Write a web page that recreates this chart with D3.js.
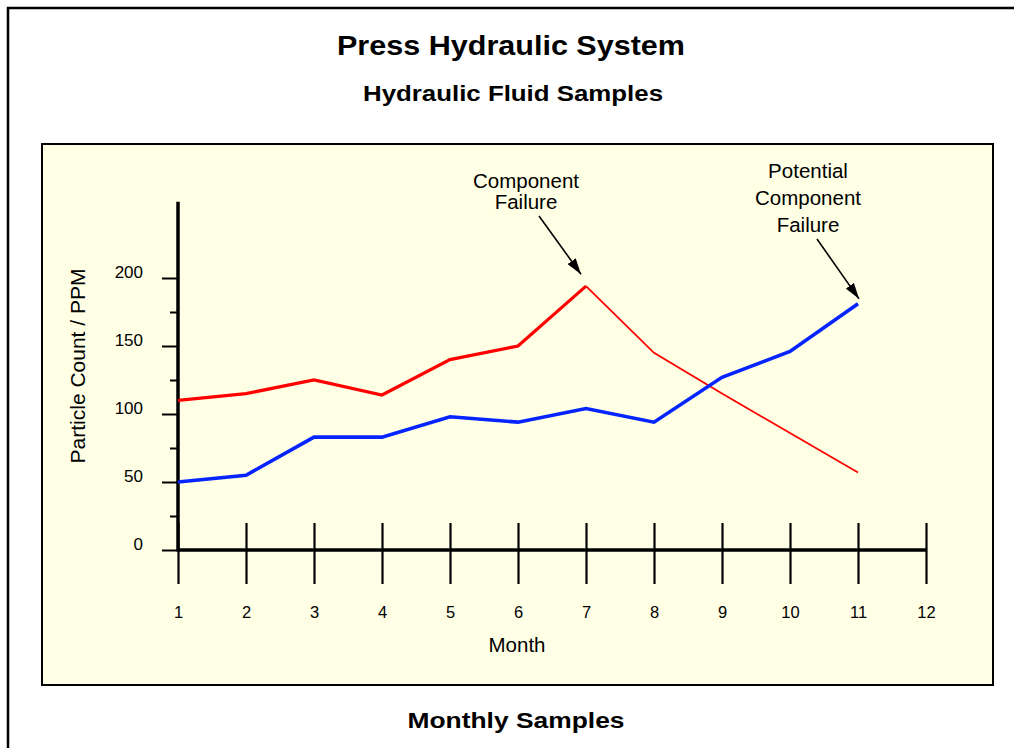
<!DOCTYPE html>
<html>
<head>
<title>Press Hydraulic System</title>
<script src="https://cdnjs.cloudflare.com/ajax/libs/d3/7.8.5/d3.min.js"></script>
<style>
  body { margin: 0; background: #fff; }
  text { font-family: "Liberation Sans", Arial, sans-serif; fill: #000; }
</style>
</head>
<body>
<svg id="chart" width="1014" height="748"></svg>

<script type="text/javascript">
// month numbers on the x axis
var months = [1, 2, 3, 4, 5, 6, 7, 8, 9, 10, 11];
var tickMonths = [1, 2, 3, 4, 5, 6, 7, 8, 9, 10, 11, 12];
// particle counts (ppm)
var redCounts = [110, 115, 125, 114, 140, 150, 194, 145, 115, 86, 57];
var blueCounts = [50, 55, 83, 83, 98, 94, 104, 94, 127, 146, 181];
var yTicks = [0, 50, 100, 150, 200];
var yMinorTicks = [25, 75, 125, 175];

var svg = d3.select("#chart");

// outer frame, runs off the right and bottom of the picture
svg.append("rect")
    .attr("x", 8).attr("y", 8)
    .attr("width", 1020).attr("height", 760)
    .attr("fill", "#fff").attr("stroke", "#000").attr("stroke-width", 2.5);

svg.append("text")
    .attr("x", 511).attr("y", 55)
    .attr("text-anchor", "middle")
    .attr("font-size", 27).attr("font-weight", "bold")
    .attr("textLength", 348).attr("lengthAdjust", "spacingAndGlyphs")
    .text("Press Hydraulic System");

svg.append("text")
    .attr("x", 513).attr("y", 101)
    .attr("text-anchor", "middle")
    .attr("font-size", 22).attr("font-weight", "bold")
    .attr("textLength", 300).attr("lengthAdjust", "spacingAndGlyphs")
    .text("Hydraulic Fluid Samples");

svg.append("text")
    .attr("x", 516).attr("y", 728)
    .attr("text-anchor", "middle")
    .attr("font-size", 22).attr("font-weight", "bold")
    .attr("textLength", 217).attr("lengthAdjust", "spacingAndGlyphs")
    .text("Monthly Samples");

// pale yellow plot panel
svg.append("rect")
    .attr("x", 42).attr("y", 144)
    .attr("width", 951).attr("height", 541)
    .attr("fill", "#ffffe6").attr("stroke", "#000").attr("stroke-width", 2);

var x = d3.scaleLinear().domain([1, 12]).range([178, 926]);
var y = d3.scaleLinear().domain([0, 200]).range([550, 278]);

// y axis: major ticks with labels, minor ticks without
var yAxis = svg.append("g")
    .attr("transform", "translate(178,0)")
    .call(d3.axisLeft(y).tickValues(yTicks).tickSize(16).tickPadding(19));
yAxis.select(".domain").remove();
yAxis.selectAll("line").attr("stroke-width", 2);
yAxis.selectAll("text")
    .attr("font-size", 17).attr("dy", "-0.02em")
    .style("font-family", "'Liberation Sans', Arial, sans-serif");

var yMinor = svg.append("g")
    .attr("transform", "translate(178,0)")
    .call(d3.axisLeft(y).tickValues(yMinorTicks).tickSize(8).tickFormat(""));
yMinor.select(".domain").remove();
yMinor.selectAll("line").attr("stroke-width", 2);

svg.append("line")
    .attr("x1", 178).attr("x2", 178)
    .attr("y1", y(256)).attr("y2", y(0) + 1.5)
    .attr("stroke", "#000").attr("stroke-width", 3.5);

// x axis: long ticks crossing the baseline
var xAxis = svg.append("g")
    .attr("transform", "translate(0,523)")
    .call(d3.axisBottom(x).tickValues(tickMonths).tickSize(61).tickPadding(22));
xAxis.select(".domain").remove();
xAxis.selectAll("line").attr("stroke-width", 2.2);
xAxis.selectAll("text")
    .attr("font-size", 16.5)
    .style("font-family", "'Liberation Sans', Arial, sans-serif");

svg.append("line")
    .attr("x1", x(1)).attr("x2", x(12))
    .attr("y1", y(0)).attr("y2", y(0))
    .attr("stroke", "#000").attr("stroke-width", 3.5);

svg.append("text")
    .attr("x", 517).attr("y", 652)
    .attr("text-anchor", "middle")
    .attr("font-size", 20.5)
    .text("Month");

svg.append("text")
    .attr("transform", "translate(85,366) rotate(-90)")
    .attr("text-anchor", "middle")
    .attr("font-size", 21)
    .text("Particle Count / PPM");

// lines
var line = d3.line()
    .x(function(d) { return x(d[0]); })
    .y(function(d) { return y(d[1]); });

var red = months.map(function(m, i) { return [m, redCounts[i]]; });
var blue = months.map(function(m, i) { return [m, blueCounts[i]]; });

// red is drawn heavy up to month 7, lighter after it
svg.append("path")
    .datum(red.slice(0, 7))
    .attr("d", line)
    .attr("fill", "none").attr("stroke", "#ff0000")
    .attr("stroke-width", 3.2).attr("stroke-linejoin", "miter");
svg.append("path")
    .datum(red.slice(6))
    .attr("d", line)
    .attr("fill", "none").attr("stroke", "#ff0000")
    .attr("stroke-width", 1.8).attr("stroke-linejoin", "miter");

svg.append("path")
    .datum(blue)
    .attr("d", line)
    .attr("fill", "none").attr("stroke", "#0524ff")
    .attr("stroke-width", 3.6);

// annotations with arrows
svg.append("defs").append("marker")
    .attr("id", "head")
    .attr("viewBox", "0 0 16 10")
    .attr("refX", 16).attr("refY", 5)
    .attr("markerWidth", 16).attr("markerHeight", 10)
    .attr("markerUnits", "userSpaceOnUse")
    .attr("orient", "auto")
    .append("path")
    .attr("d", "M0,0 L16,5 L0,10 Z")
    .attr("fill", "#000");

var notes = [
    {lines: ["Component", "Failure"], cx: 526, top: 188, month: 7, value: redCounts[6],
     from: [539, 216], dx: -5, dy: -12},
    {lines: ["Potential", "Component", "Failure"], cx: 808, top: 178, month: 11, value: blueCounts[10],
     from: [817, 239], dx: 1, dy: -5}
];

notes.forEach(function(n) {
    var t = svg.append("text")
        .attr("text-anchor", "middle")
        .attr("font-size", 20.5);
    n.lines.forEach(function(s, i) {
        t.append("tspan")
            .attr("x", n.cx)
            .attr("y", n.top + i * (n.lines.length == 2 ? 21 : 27))
            .text(s);
    });
    svg.append("line")
        .attr("x1", n.from[0]).attr("y1", n.from[1])
        .attr("x2", x(n.month) + n.dx).attr("y2", y(n.value) + n.dy)
        .attr("stroke", "#000").attr("stroke-width", 1.6)
        .attr("marker-end", "url(#head)");
});
</script>
</body>
</html>
